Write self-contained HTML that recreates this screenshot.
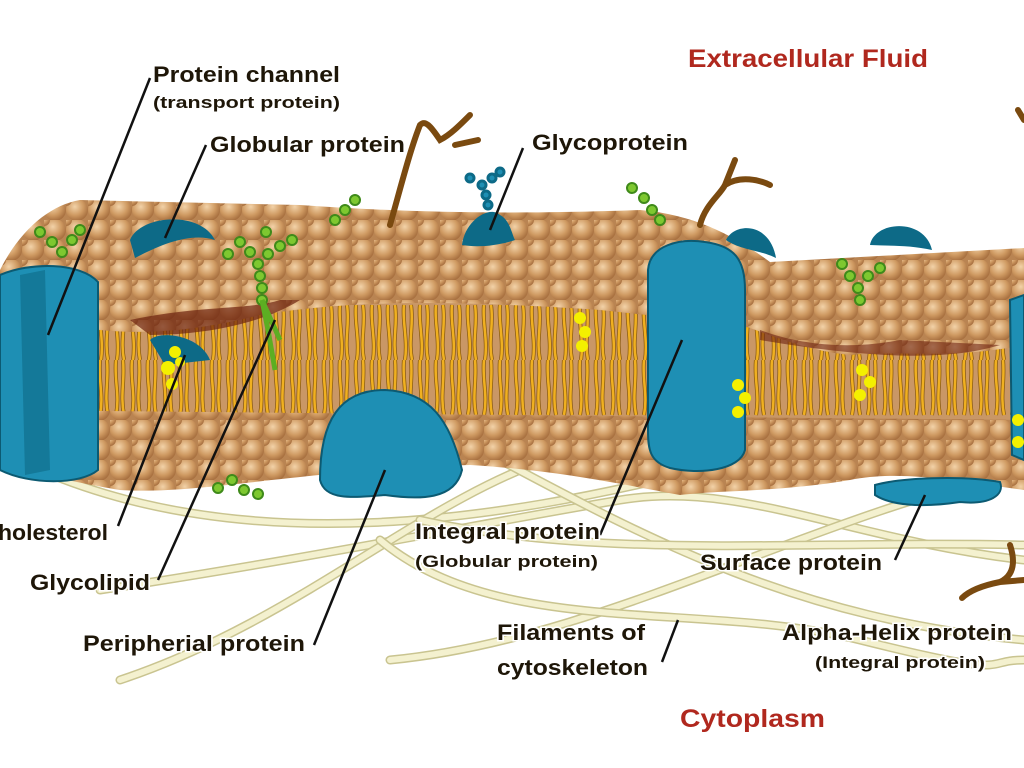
<!DOCTYPE html>
<html><head><meta charset="utf-8">
<style>
html,body{margin:0;padding:0;background:#fff;}
svg{display:block;}
.l{font-family:"Liberation Sans",sans-serif;font-size:22px;font-weight:bold;fill:#1e1608;stroke:#fff;stroke-width:3px;paint-order:stroke;}
.s{font-size:17px;}
.r{font-family:"Liberation Sans",sans-serif;font-size:25px;font-weight:bold;fill:#b0281e;}
.ln{stroke:#111;stroke-width:2.5;fill:none;}
.fib{fill:none;stroke:#c9c490;stroke-width:9;stroke-linecap:round;}
.fib2{fill:none;stroke:#f4f1cf;stroke-width:6;stroke-linecap:round;}
</style></head><body>
<svg width="1024" height="768" viewBox="0 0 1024 768" xmlns="http://www.w3.org/2000/svg">
<defs>
<radialGradient id="hg" cx="40%" cy="35%" r="65%">
<stop offset="0" stop-color="#f2d2a8"/><stop offset="0.6" stop-color="#cf9a62"/><stop offset="1" stop-color="#a87040"/>
</radialGradient>
<pattern id="heads" width="22" height="20" patternUnits="userSpaceOnUse">
<rect width="22" height="20" fill="#b98452"/>
<circle cx="11" cy="10" r="11" fill="url(#hg)"/>
<circle cx="0" cy="0" r="6" fill="url(#hg)"/>
</pattern>
<pattern id="tails" width="16" height="120" patternUnits="userSpaceOnUse">
<rect width="16" height="120" fill="#c99766"/>
<path d="M4 0 C2 20 8 35 4 55 M11 0 C13 20 8 35 12 55 M4 65 C2 80 8 100 5 120 M11 65 C14 85 8 100 12 120" stroke="#8a5a10" stroke-width="4" fill="none"/>
<path d="M4 0 C2 20 8 35 4 55 M11 0 C13 20 8 35 12 55 M4 65 C2 80 8 100 5 120 M11 65 C14 85 8 100 12 120" stroke="#f0b020" stroke-width="2.5" fill="none"/>
</pattern>
</defs>

<g>
<path class="fib" d="M40 470 C250 560 500 520 700 470 S950 430 1024 450"/>
<path class="fib2" d="M40 470 C250 560 500 520 700 470 S950 430 1024 450"/>
<path class="fib" d="M100 590 C300 560 500 520 620 500 S850 540 1024 560"/>
<path class="fib2" d="M100 590 C300 560 500 520 620 500 S850 540 1024 560"/>
<path class="fib" d="M390 660 C600 640 800 520 1024 470"/>
<path class="fib2" d="M390 660 C600 640 800 520 1024 470"/>
<path class="fib" d="M120 680 C300 620 420 500 560 455"/>
<path class="fib2" d="M120 680 C300 620 420 500 560 455"/>
<path class="fib" d="M380 540 C500 640 700 600 860 640 S980 660 1024 660"/>
<path class="fib2" d="M380 540 C500 640 700 600 860 640 S980 660 1024 660"/>
<path class="fib" d="M500 460 C650 540 800 620 1024 640"/>
<path class="fib2" d="M500 460 C650 540 800 620 1024 640"/>
<path class="fib" d="M420 520 C600 560 800 540 1024 545"/>
<path class="fib2" d="M420 520 C600 560 800 540 1024 545"/>
</g>

<path d="M0 300 L1024 300 L1024 445 L0 445 Z" fill="url(#tails)"/>
<path d="M0 270 C20 230 50 205 80 200 L300 205 C400 212 500 215 640 210 C700 215 740 240 770 262 L1024 248 L1024 345 C950 360 900 350 850 355 C800 350 760 330 740 325 L600 310 C450 300 350 300 260 315 C200 330 150 335 100 330 L0 320 Z" fill="url(#heads)"/>
<path d="M0 410 L1024 420 L1024 490 C950 480 900 470 850 480 C780 492 720 490 680 495 C600 480 550 470 470 465 C300 470 200 495 120 490 C60 480 30 470 0 470 Z" fill="url(#heads)"/>

<path d="M130 320 C200 305 250 310 280 300 L300 300 C260 325 200 335 150 335 Z" fill="#6e2310" opacity="0.7"/>
<path d="M760 330 C800 345 850 350 900 340 L1000 345 C950 360 880 360 760 340 Z" fill="#6e2310" opacity="0.6"/>

<g fill="#1e8fb4" stroke="#0c5a72" stroke-width="2">
<path d="M0 275 C30 262 80 262 98 282 L98 470 C80 485 30 485 0 470 Z"/>
<path d="M320 480 C320 420 340 390 385 390 C430 392 450 420 462 470 C455 500 420 500 385 495 C350 498 325 500 320 480 Z"/>
<path d="M648 270 C650 245 680 238 705 242 C735 246 745 260 745 290 L745 450 C740 470 700 475 670 468 C650 462 648 450 648 430 Z"/>
<path d="M875 485 C900 478 960 475 1000 482 C1005 495 990 505 960 502 C920 508 890 505 875 495 Z"/>
<path d="M1010 300 L1024 295 L1024 460 L1012 455 Z"/>
</g>
<g fill="#0d6a87">
<path d="M20 275 L45 270 L50 470 L25 475 Z" opacity="0.6"/>
<path d="M130 240 C140 215 200 210 215 240 C190 232 160 245 135 258 Z"/>
<path d="M726 240 C735 222 770 222 776 258 C760 250 740 250 726 240 Z"/>
<path d="M870 245 C875 220 925 218 932 250 C910 245 890 246 870 245 Z"/>
<path d="M462 245 C465 220 490 205 500 215 C510 220 512 235 515 240 C500 245 480 248 462 245 Z"/>
<path d="M150 340 C160 330 200 335 210 360 L165 365 Z"/>
</g>

<g fill="#f4f000">
<circle cx="175" cy="352" r="6"/><circle cx="168" cy="368" r="7"/><circle cx="172" cy="384" r="6"/><circle cx="180" cy="362" r="5"/>
<circle cx="580" cy="318" r="6"/><circle cx="585" cy="332" r="6"/><circle cx="582" cy="346" r="6"/>
<circle cx="738" cy="385" r="6"/><circle cx="745" cy="398" r="6"/><circle cx="738" cy="412" r="6"/>
<circle cx="862" cy="370" r="6"/><circle cx="870" cy="382" r="6"/><circle cx="860" cy="395" r="6"/>
<circle cx="1018" cy="420" r="6"/><circle cx="1018" cy="442" r="6"/>
</g>

<g stroke="#3f8a1a" stroke-width="2" fill="#7ec830">
<circle cx="262" cy="300" r="5"/><circle cx="262" cy="288" r="5"/><circle cx="260" cy="276" r="5"/><circle cx="258" cy="264" r="5"/><circle cx="250" cy="252" r="5"/><circle cx="240" cy="242" r="5"/><circle cx="228" cy="254" r="5"/><circle cx="268" cy="254" r="5"/><circle cx="280" cy="246" r="5"/><circle cx="292" cy="240" r="5"/><circle cx="266" cy="232" r="5"/>
<circle cx="40" cy="232" r="5"/><circle cx="52" cy="242" r="5"/><circle cx="62" cy="252" r="5"/><circle cx="72" cy="240" r="5"/><circle cx="80" cy="230" r="5"/>
<circle cx="335" cy="220" r="5"/><circle cx="345" cy="210" r="5"/><circle cx="355" cy="200" r="5"/>
<circle cx="632" cy="188" r="5"/><circle cx="644" cy="198" r="5"/><circle cx="652" cy="210" r="5"/><circle cx="660" cy="220" r="5"/>
<circle cx="860" cy="300" r="5"/><circle cx="858" cy="288" r="5"/><circle cx="850" cy="276" r="5"/><circle cx="842" cy="264" r="5"/><circle cx="868" cy="276" r="5"/><circle cx="880" cy="268" r="5"/>
<circle cx="218" cy="488" r="5"/><circle cx="232" cy="480" r="5"/><circle cx="244" cy="490" r="5"/><circle cx="258" cy="494" r="5"/>
</g>
<path d="M262 300 L268 330 L275 370 M262 300 L280 340" stroke="#5cae22" stroke-width="5" fill="none"/>

<g stroke="#7a4a10" stroke-width="6" fill="none" stroke-linecap="round">
<path d="M390 225 C400 190 410 150 420 125 C425 120 430 125 440 140 C450 135 460 125 470 115"/>
<path d="M455 145 L478 140"/>
<path d="M700 225 C705 205 720 195 725 185 L735 160 M725 185 C740 175 760 180 770 185"/>
<path d="M1010 545 C1015 560 1015 575 1000 582 C985 585 970 590 962 598 M1000 582 L1024 580"/>
<path d="M1024 120 L1018 110"/>
</g>
<g stroke="#0d6a87" stroke-width="3" fill="#1e8fb4">
<circle cx="488" cy="205" r="4"/><circle cx="486" cy="195" r="4"/><circle cx="482" cy="185" r="4"/><circle cx="470" cy="178" r="4"/><circle cx="492" cy="178" r="4"/><circle cx="500" cy="172" r="4"/>
</g>

<g class="ln">
<path d="M150 78 L48 335"/>
<path d="M206 145 L165 238"/>
<path d="M523 148 L490 230"/>
<path d="M118 526 L185 355"/>
<path d="M158 580 L275 320"/>
<path d="M314 645 L385 470"/>
<path d="M600 535 L682 340"/>
<path d="M895 560 L925 495"/>
<path d="M662 662 L678 620"/>
</g>

<text class="r" x="688" y="67" textLength="240" lengthAdjust="spacingAndGlyphs">Extracellular Fluid</text>
<text class="r" x="680" y="727" textLength="145" lengthAdjust="spacingAndGlyphs">Cytoplasm</text>
<text class="l" x="153" y="82" textLength="187" lengthAdjust="spacingAndGlyphs">Protein channel</text>
<text class="l s" x="153" y="108" textLength="187" lengthAdjust="spacingAndGlyphs">(transport protein)</text>
<text class="l" x="210" y="152" textLength="195" lengthAdjust="spacingAndGlyphs">Globular protein</text>
<text class="l" x="532" y="150" textLength="156" lengthAdjust="spacingAndGlyphs">Glycoprotein</text>
<text class="l" x="-2" y="540" textLength="110" lengthAdjust="spacingAndGlyphs">holesterol</text>
<text class="l" x="30" y="590" textLength="120" lengthAdjust="spacingAndGlyphs">Glycolipid</text>
<text class="l" x="83" y="651" textLength="222" lengthAdjust="spacingAndGlyphs">Peripherial protein</text>
<text class="l" x="415" y="539" textLength="185" lengthAdjust="spacingAndGlyphs">Integral protein</text>
<text class="l s" x="415" y="567" textLength="183" lengthAdjust="spacingAndGlyphs">(Globular protein)</text>
<text class="l" x="700" y="570" textLength="182" lengthAdjust="spacingAndGlyphs">Surface protein</text>
<text class="l" x="497" y="640" textLength="148" lengthAdjust="spacingAndGlyphs">Filaments of</text>
<text class="l" x="497" y="675" textLength="151" lengthAdjust="spacingAndGlyphs">cytoskeleton</text>
<text class="l" x="782" y="640" textLength="230" lengthAdjust="spacingAndGlyphs">Alpha-Helix protein</text>
<text class="l s" x="815" y="668" textLength="170" lengthAdjust="spacingAndGlyphs">(Integral protein)</text>
</svg>
</body></html>
